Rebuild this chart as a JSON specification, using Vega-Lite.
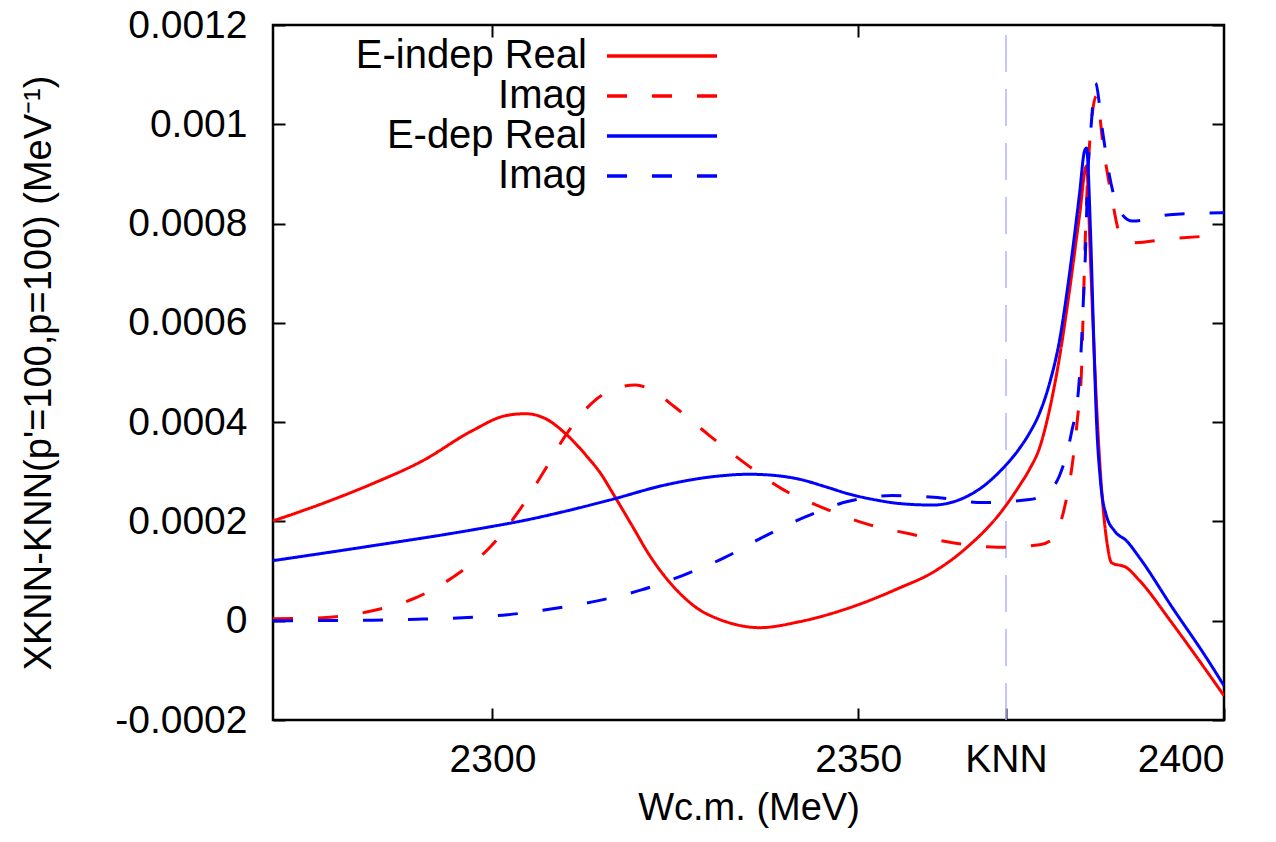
{
  "$schema": "https://vega.github.io/schema/vega-lite/v6.json",
  "width": 951,
  "height": 695,
  "autosize": {"type": "none"},
  "padding": {"left": 273, "top": 25, "right": 52, "bottom": 122},
  "config": {
    "font": "Liberation Sans",
    "view": {"stroke": "black", "strokeWidth": 2.5},
    "axis": {
      "grid": false,
      "domain": false,
      "labelFont": "Liberation Sans",
      "labelFontSize": 39,
      "labelColor": "black",
      "titleFont": "Liberation Sans",
      "titleFontSize": 38,
      "titleFontWeight": "normal",
      "titleColor": "black",
      "tickColor": "black",
      "tickWidth": 2,
      "tickSize": -12
    }
  },
  "resolve": {"axis": {"x": "independent", "y": "independent"}},
  "layer": [
    {
      "data": {"values": [{"W": 2370.2}]},
      "mark": {"type": "rule", "color": "#b4b4ff", "strokeWidth": 1.5, "strokeDash": [37, 17]},
      "encoding": {
        "x": {"field": "W", "type": "quantitative", "scale": {"domain": [2270, 2400], "nice": false, "zero": false},
              "axis": {"orient": "top", "values": [2300, 2350], "labels": false, "title": null}},
        "y": {"datum": -0.0002, "type": "quantitative", "scale": {"domain": [-0.0002, 0.0012], "nice": false},
              "axis": {"orient": "right", "values": [-0.0002, 0, 0.0002, 0.0004, 0.0006, 0.0008, 0.001, 0.0012], "labels": false, "title": null}},
        "y2": {"datum": 0.0012}
      }
    },
    {
      "data": {"values": [
        {"series": "E-indep Real", "W": 2270, "X": 0.000201},
        {"series": "E-indep Real", "W": 2276.76, "X": 0.000236},
        {"series": "E-indep Real", "W": 2283.6, "X": 0.000276},
        {"series": "E-indep Real", "W": 2290.43, "X": 0.000322},
        {"series": "E-indep Real", "W": 2297.27, "X": 0.000383},
        {"series": "E-indep Real", "W": 2301.78, "X": 0.000413},
        {"series": "E-indep Real", "W": 2304.51, "X": 0.000417},
        {"series": "E-indep Real", "W": 2307.25, "X": 0.000407},
        {"series": "E-indep Real", "W": 2309.98, "X": 0.000377},
        {"series": "E-indep Real", "W": 2313.26, "X": 0.000325},
        {"series": "E-indep Real", "W": 2314.63, "X": 0.000300},
        {"series": "E-indep Real", "W": 2316.4, "X": 0.000258},
        {"series": "E-indep Real", "W": 2319.14, "X": 0.000190},
        {"series": "E-indep Real", "W": 2321.46, "X": 0.000132},
        {"series": "E-indep Real", "W": 2323.79, "X": 0.000085},
        {"series": "E-indep Real", "W": 2325.97, "X": 0.000050},
        {"series": "E-indep Real", "W": 2328.3, "X": 0.000022},
        {"series": "E-indep Real", "W": 2330.62, "X": 0.000005},
        {"series": "E-indep Real", "W": 2332.81, "X": -0.000006},
        {"series": "E-indep Real", "W": 2336.5, "X": -0.000014},
        {"series": "E-indep Real", "W": 2341.97, "X": -0.000002},
        {"series": "E-indep Real", "W": 2348.8, "X": 0.000026},
        {"series": "E-indep Real", "W": 2355.64, "X": 0.000066},
        {"series": "E-indep Real", "W": 2360.15, "X": 0.000097},
        {"series": "E-indep Real", "W": 2364.8, "X": 0.000147},
        {"series": "E-indep Real", "W": 2369.31, "X": 0.000215},
        {"series": "E-indep Real", "W": 2372.04, "X": 0.000272},
        {"series": "E-indep Real", "W": 2373.41, "X": 0.000305},
        {"series": "E-indep Real", "W": 2374.78, "X": 0.000348},
        {"series": "E-indep Real", "W": 2376.15, "X": 0.000425},
        {"series": "E-indep Real", "W": 2377.51, "X": 0.000530},
        {"series": "E-indep Real", "W": 2378.88, "X": 0.000665},
        {"series": "E-indep Real", "W": 2380.25, "X": 0.000816},
        {"series": "E-indep Real", "W": 2381.2, "X": 0.000916},
        {"series": "E-indep Real", "W": 2381.75, "X": 0.000725},
        {"series": "E-indep Real", "W": 2382.3, "X": 0.000524},
        {"series": "E-indep Real", "W": 2382.84, "X": 0.000362},
        {"series": "E-indep Real", "W": 2383.39, "X": 0.000242},
        {"series": "E-indep Real", "W": 2384.07, "X": 0.000151},
        {"series": "E-indep Real", "W": 2384.62, "X": 0.000117},
        {"series": "E-indep Real", "W": 2386.67, "X": 0.000107},
        {"series": "E-indep Real", "W": 2388.45, "X": 0.000081},
        {"series": "E-indep Real", "W": 2392.96, "X": -0.000006},
        {"series": "E-indep Real", "W": 2397.61, "X": -0.000101},
        {"series": "E-indep Real", "W": 2400, "X": -0.000151},

        {"series": "E-indep Imag", "W": 2270, "X": 0.000004},
        {"series": "E-indep Imag", "W": 2276.76, "X": 0.000006},
        {"series": "E-indep Imag", "W": 2283.6, "X": 0.00002},
        {"series": "E-indep Imag", "W": 2289.47, "X": 0.000046},
        {"series": "E-indep Imag", "W": 2294.94, "X": 0.000091},
        {"series": "E-indep Imag", "W": 2299.59, "X": 0.000147},
        {"series": "E-indep Imag", "W": 2303.42, "X": 0.000217},
        {"series": "E-indep Imag", "W": 2306.84, "X": 0.000296},
        {"series": "E-indep Imag", "W": 2309.98, "X": 0.000373},
        {"series": "E-indep Imag", "W": 2313.94, "X": 0.000443},
        {"series": "E-indep Imag", "W": 2316.68, "X": 0.000467},
        {"series": "E-indep Imag", "W": 2319.55, "X": 0.000475},
        {"series": "E-indep Imag", "W": 2322.15, "X": 0.000461},
        {"series": "E-indep Imag", "W": 2324.88, "X": 0.000431},
        {"series": "E-indep Imag", "W": 2329.67, "X": 0.000373},
        {"series": "E-indep Imag", "W": 2334.45, "X": 0.000318},
        {"series": "E-indep Imag", "W": 2339.51, "X": 0.000266},
        {"series": "E-indep Imag", "W": 2345.11, "X": 0.000228},
        {"series": "E-indep Imag", "W": 2351.13, "X": 0.000195},
        {"series": "E-indep Imag", "W": 2357.01, "X": 0.000175},
        {"series": "E-indep Imag", "W": 2362.88, "X": 0.000157},
        {"series": "E-indep Imag", "W": 2369.04, "X": 0.000148},
        {"series": "E-indep Imag", "W": 2374.78, "X": 0.000153},
        {"series": "E-indep Imag", "W": 2376.42, "X": 0.000163},
        {"series": "E-indep Imag", "W": 2378.2, "X": 0.000228},
        {"series": "E-indep Imag", "W": 2379.29, "X": 0.000318},
        {"series": "E-indep Imag", "W": 2379.97, "X": 0.000407},
        {"series": "E-indep Imag", "W": 2380.52, "X": 0.000503},
        {"series": "E-indep Imag", "W": 2380.79, "X": 0.000644},
        {"series": "E-indep Imag", "W": 2381.07, "X": 0.000785},
        {"series": "E-indep Imag", "W": 2381.61, "X": 0.000957},
        {"series": "E-indep Imag", "W": 2382.57, "X": 0.001057},
        {"series": "E-indep Imag", "W": 2383.53, "X": 0.00095},
        {"series": "E-indep Imag", "W": 2384.62, "X": 0.000856},
        {"series": "E-indep Imag", "W": 2385.71, "X": 0.000781},
        {"series": "E-indep Imag", "W": 2387.08, "X": 0.000761},
        {"series": "E-indep Imag", "W": 2392.55, "X": 0.000769},
        {"series": "E-indep Imag", "W": 2400, "X": 0.000777},

        {"series": "E-dep Real", "W": 2270, "X": 0.000121},
        {"series": "E-dep Real", "W": 2283.6, "X": 0.000151},
        {"series": "E-dep Real", "W": 2297.27, "X": 0.000183},
        {"series": "E-dep Real", "W": 2305.0, "X": 0.000204},
        {"series": "E-dep Real", "W": 2310.94, "X": 0.000224},
        {"series": "E-dep Real", "W": 2316.0, "X": 0.000243},
        {"series": "E-dep Real", "W": 2323.79, "X": 0.000274},
        {"series": "E-dep Real", "W": 2329.5, "X": 0.000289},
        {"series": "E-dep Real", "W": 2335.13, "X": 0.000295},
        {"series": "E-dep Real", "W": 2339.0, "X": 0.000292},
        {"series": "E-dep Real", "W": 2341.97, "X": 0.000285},
        {"series": "E-dep Real", "W": 2345.5, "X": 0.000270},
        {"series": "E-dep Real", "W": 2348.8, "X": 0.000255},
        {"series": "E-dep Real", "W": 2352.5, "X": 0.000243},
        {"series": "E-dep Real", "W": 2355.64, "X": 0.000236},
        {"series": "E-dep Real", "W": 2360.15, "X": 0.000233},
        {"series": "E-dep Real", "W": 2364.8, "X": 0.000250},
        {"series": "E-dep Real", "W": 2367.2, "X": 0.000272},
        {"series": "E-dep Real", "W": 2369.31, "X": 0.000300},
        {"series": "E-dep Real", "W": 2372.04, "X": 0.000347},
        {"series": "E-dep Real", "W": 2373.41, "X": 0.000378},
        {"series": "E-dep Real", "W": 2374.78, "X": 0.000418},
        {"series": "E-dep Real", "W": 2376.15, "X": 0.000478},
        {"series": "E-dep Real", "W": 2377.51, "X": 0.000564},
        {"series": "E-dep Real", "W": 2378.88, "X": 0.000699},
        {"series": "E-dep Real", "W": 2380.25, "X": 0.00086},
        {"series": "E-dep Real", "W": 2380.93, "X": 0.000946},
        {"series": "E-dep Real", "W": 2381.2, "X": 0.000952},
        {"series": "E-dep Real", "W": 2381.75, "X": 0.000785},
        {"series": "E-dep Real", "W": 2382.16, "X": 0.000584},
        {"series": "E-dep Real", "W": 2382.57, "X": 0.000403},
        {"series": "E-dep Real", "W": 2383.11, "X": 0.000282},
        {"series": "E-dep Real", "W": 2383.94, "X": 0.000211},
        {"series": "E-dep Real", "W": 2385.03, "X": 0.000181},
        {"series": "E-dep Real", "W": 2386.67, "X": 0.000161},
        {"series": "E-dep Real", "W": 2388.45, "X": 0.000127},
        {"series": "E-dep Real", "W": 2392.96, "X": 0.000026},
        {"series": "E-dep Real", "W": 2397.61, "X": -0.000075},
        {"series": "E-dep Real", "W": 2400, "X": -0.000131},

        {"series": "E-dep Imag", "W": 2270, "X": 0.0},
        {"series": "E-dep Imag", "W": 2283.6, "X": 0.000001},
        {"series": "E-dep Imag", "W": 2289.75, "X": 0.000003},
        {"series": "E-dep Imag", "W": 2295.9, "X": 0.000006},
        {"series": "E-dep Imag", "W": 2302.05, "X": 0.000012},
        {"series": "E-dep Imag", "W": 2308.2, "X": 0.000024},
        {"series": "E-dep Imag", "W": 2314.35, "X": 0.000040},
        {"series": "E-dep Imag", "W": 2320.37, "X": 0.000062},
        {"series": "E-dep Imag", "W": 2325.97, "X": 0.000091},
        {"series": "E-dep Imag", "W": 2331.72, "X": 0.000127},
        {"series": "E-dep Imag", "W": 2337.18, "X": 0.000170},
        {"series": "E-dep Imag", "W": 2342.93, "X": 0.000210},
        {"series": "E-dep Imag", "W": 2348.53, "X": 0.000240},
        {"series": "E-dep Imag", "W": 2354.68, "X": 0.000252},
        {"series": "E-dep Imag", "W": 2360.83, "X": 0.000248},
        {"series": "E-dep Imag", "W": 2366.99, "X": 0.000238},
        {"series": "E-dep Imag", "W": 2373.41, "X": 0.000244},
        {"series": "E-dep Imag", "W": 2376.15, "X": 0.000262},
        {"series": "E-dep Imag", "W": 2377.51, "X": 0.000292},
        {"series": "E-dep Imag", "W": 2379.15, "X": 0.000379},
        {"series": "E-dep Imag", "W": 2380.11, "X": 0.000465},
        {"series": "E-dep Imag", "W": 2380.52, "X": 0.00056},
        {"series": "E-dep Imag", "W": 2380.79, "X": 0.00065},
        {"series": "E-dep Imag", "W": 2381.07, "X": 0.000745},
        {"series": "E-dep Imag", "W": 2381.34, "X": 0.00088},
        {"series": "E-dep Imag", "W": 2381.89, "X": 0.001007},
        {"series": "E-dep Imag", "W": 2382.43, "X": 0.001083},
        {"series": "E-dep Imag", "W": 2383.39, "X": 0.000987},
        {"series": "E-dep Imag", "W": 2384.35, "X": 0.000896},
        {"series": "E-dep Imag", "W": 2385.71, "X": 0.000826},
        {"series": "E-dep Imag", "W": 2387.49, "X": 0.000805},
        {"series": "E-dep Imag", "W": 2392.55, "X": 0.000818},
        {"series": "E-dep Imag", "W": 2400, "X": 0.000822}
      ]},
      "mark": {"type": "line", "strokeWidth": 3, "interpolate": "monotone", "clip": true},
      "encoding": {
        "x": {"field": "W", "type": "quantitative", "scale": {"domain": [2270, 2400], "nice": false, "zero": false},
              "axis": {"orient": "bottom", "values": [2300, 2350, 2370.2, 2400], "format": "d",
                       "labelExpr": "datum.value > 2360 && datum.value < 2380 ? 'KNN' : datum.label",
                       "labelPadding": 32, "title": "Wc.m. (MeV)", "titlePadding": 10}},
        "y": {"field": "X", "type": "quantitative", "scale": {"domain": [-0.0002, 0.0012], "nice": false},
              "axis": {"orient": "left", "values": [-0.0002, 0, 0.0002, 0.0004, 0.0006, 0.0008, 0.001, 0.0012],
                       "labelExpr": "replace(format(datum.value, '~g'), '−', '-')",
                       "labelPadding": 38, "title": "XKNN-KNN(p'=100,p=100) (MeV⁻¹)", "titlePadding": 56}},
        "color": {"field": "series", "type": "nominal",
                  "scale": {"domain": ["E-indep Real", "E-indep Imag", "E-dep Real", "E-dep Imag"], "range": ["#ff0000", "#ff0000", "#0000ff", "#0000ff"]},
                  "legend": {"orient": "none", "legendX": 369, "legendY": 11, "title": null, "padding": 0,
                             "labelFontSize": 40, "labelFont": "Liberation Sans", "labelColor": "black", "labelAlign": "right", "labelOffset": -95, "labelLimit": 500,
                             "symbolType": "M-5,0H5", "symbolSize": 484, "symbolStrokeWidth": 3.5, "rowPadding": 0,
                             "labelExpr": "indexof(datum.label, 'Imag') >= 0 ? 'Imag' : datum.label"}},
        "strokeDash": {"field": "series", "type": "nominal",
                  "scale": {"domain": ["E-indep Real", "E-indep Imag", "E-dep Real", "E-dep Imag"], "range": [[1, 0], [20, 25], [1, 0], [20, 25]]},
                  "legend": {"orient": "none", "legendX": 369, "legendY": 11, "title": null, "padding": 0,
                             "labelFontSize": 40, "labelFont": "Liberation Sans", "labelColor": "black", "labelAlign": "right", "labelOffset": -95, "labelLimit": 500,
                             "symbolType": "M-5,0H5", "symbolSize": 484, "symbolStrokeWidth": 3.5, "rowPadding": 0,
                             "labelExpr": "indexof(datum.label, 'Imag') >= 0 ? 'Imag' : datum.label"}}
      }
    }
  ]
}
